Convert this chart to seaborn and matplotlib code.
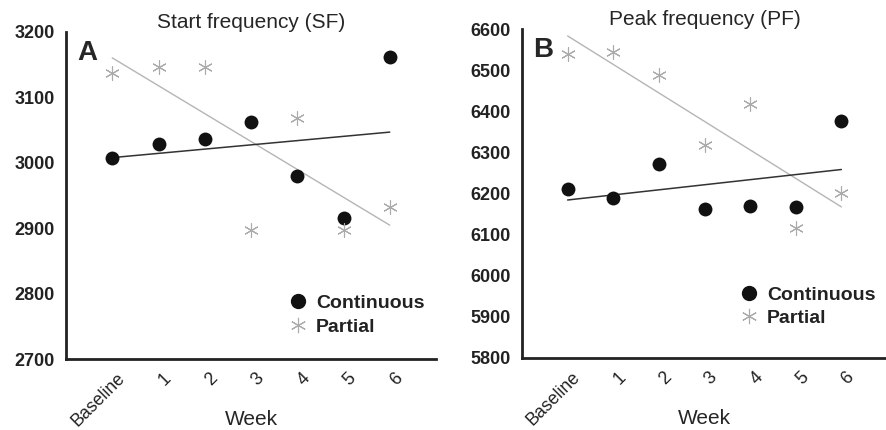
import numpy as np
import pandas as pd
import matplotlib
matplotlib.use("Agg")
import matplotlib.pyplot as plt
import matplotlib.transforms as mtransforms
import seaborn as sns
from matplotlib.lines import Line2D

# --- DATA ---
week_labels = ["Baseline", "1", "2", "3", "4", "5", "6"]
week_pos = [0, 1, 2, 3, 4, 5, 6]

sf_continuous = [3008, 3028, 3036, 3062, 2980, 2916, 3162]
sf_partial = [3138, 3147, 3147, 2898, 3068, 2897, 2933]

pf_continuous = [6212, 6190, 6271, 6163, 6170, 6166, 6377]
pf_partial = [6540, 6545, 6487, 6319, 6417, 6117, 6202]

sf_ticks = [2700, 2800, 2900, 3000, 3100, 3200]
pf_ticks = [5800, 5900, 6000, 6100, 6200, 6300, 6400, 6500, 6600]

sns.set_theme(style="white")
plt.rcParams["font.family"] = ["Liberation Sans", "DejaVu Sans"]

DOT = "#111111"
STAR = "#ababab"
asterisk = (6, 2, 0)


def make_df(cont, part):
    return pd.DataFrame({
        "week": week_pos * 2,
        "value": cont + part,
        "group": ["Continuous"] * 7 + ["Partial"] * 7,
    })


def draw_panel(ax, df, title, letter, ticks, xmax, legend_anchor):
    cont = df[df.group == "Continuous"]
    part = df[df.group == "Partial"]
    sns.regplot(data=part, x="week", y="value", scatter=False, ci=None, ax=ax,
                truncate=True, line_kws=dict(color="#b5b5b5", lw=1.0))
    sns.regplot(data=cont, x="week", y="value", scatter=False, ci=None, ax=ax,
                truncate=True, line_kws=dict(color="#333333", lw=1.1))
    sns.scatterplot(data=cont, x="week", y="value", ax=ax, color=DOT, s=100,
                    marker="o", edgecolor=DOT, linewidth=0, zorder=3)
    sns.scatterplot(data=part, x="week", y="value", ax=ax, color=STAR, s=100,
                    marker=asterisk, edgecolor=STAR, linewidth=0.8, zorder=3)

    ax.set_xlim(-1, xmax)
    ax.set_ylim(ticks[0], ticks[-1])
    ax.set_yticks(ticks)
    ax.set_yticklabels([str(t) for t in ticks], fontsize=13, fontweight="bold",
                       color="#222222")
    ax.set_xticks(list(range(0, 8)))
    ax.set_xticklabels(week_labels + [""], rotation=45, ha="right",
                       rotation_mode="anchor", fontsize=12.8, color="#222222")
    ax.tick_params(axis="x", direction="in", length=9, width=1.2, color="#333333", pad=8)
    ax.tick_params(axis="y", direction="out", length=5, width=1.2, color="#333333", pad=3)
    shift = mtransforms.ScaledTranslation(4 / 100, 0, ax.figure.dpi_scale_trans)
    for lab in ax.get_xticklabels():
        lab.set_transform(lab.get_transform() + shift)
    for side in ["top", "right"]:
        ax.spines[side].set_visible(False)
    for side in ["left", "bottom"]:
        ax.spines[side].set_linewidth(2.0)
        ax.spines[side].set_color("#222222")
    ax.set_xlabel("Week", fontsize=15, va="top")
    ax.xaxis.set_label_coords(0.5, -0.155)
    ax.set_ylabel("")
    ax.set_title(title, fontsize=15, pad=3)
    ax.text(0.03, 0.975, letter, transform=ax.transAxes, fontsize=20,
            fontweight="bold", va="top", ha="left")

    handles = [
        Line2D([], [], marker="o", color=DOT, linestyle="none", markersize=10),
        Line2D([], [], marker=asterisk, color=STAR, markeredgecolor=STAR,
               linestyle="none", markersize=11, markeredgewidth=0.8),
    ]
    leg = ax.legend(handles, ["Continuous", "Partial"], loc="center left",
                    bbox_to_anchor=legend_anchor, bbox_transform=ax.figure.transFigure,
                    frameon=False, borderpad=0, handlelength=1.1, handletextpad=0.35,
                    labelspacing=0.3, prop=dict(size=14, weight="bold"))
    for t in leg.get_texts():
        t.set_color("#222222")


fig = plt.figure(figsize=(8.87, 4.30), dpi=100)
W, H = 887, 430
ax1 = fig.add_axes([66 / W, 1 - 359 / H, 370 / W, 327 / H])
ax2 = fig.add_axes([522 / W, 1 - 358 / H, 365 / W, 329 / H])

draw_panel(ax1, make_df(sf_continuous, sf_partial), "Start frequency (SF)", "A",
           sf_ticks, 7, (278 / W, 1 - 315 / H))
draw_panel(ax2, make_df(pf_continuous, pf_partial), "Peak frequency (PF)", "B",
           pf_ticks, 6.85, (729 / W, 1 - 306.5 / H))

fig.savefig("out.png", dpi=100)
